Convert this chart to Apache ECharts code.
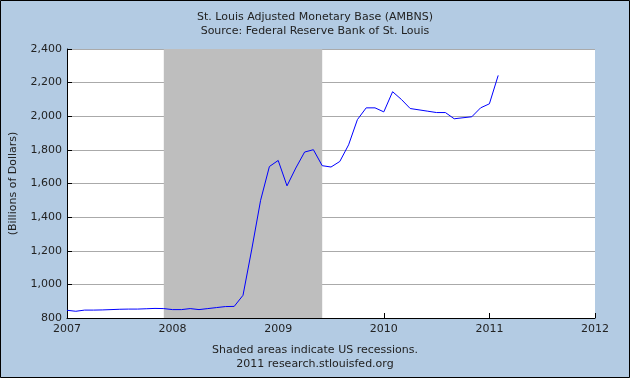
<!DOCTYPE html>
<html>
<head>
<meta charset="utf-8">
<script src="https://cdn.jsdelivr.net/npm/echarts@6/dist/echarts.min.js"></script>
<style>
  html, body { margin: 0; padding: 0; background: #b3cbe3; }
  #chart { width: 630px; height: 378px; }
</style>
</head>
<body>
<div id="chart"></div>
<script>
    // monthly observations, billions of dollars
    const months = [
        '2007-01', '2007-02', '2007-03', '2007-04', '2007-05', '2007-06',
        '2007-07', '2007-08', '2007-09', '2007-10', '2007-11', '2007-12',
        '2008-01', '2008-02', '2008-03', '2008-04', '2008-05', '2008-06',
        '2008-07', '2008-08', '2008-09', '2008-10', '2008-11', '2008-12',
        '2009-01', '2009-02', '2009-03', '2009-04', '2009-05', '2009-06',
        '2009-07', '2009-08', '2009-09', '2009-10', '2009-11', '2009-12',
        '2010-01', '2010-02', '2010-03', '2010-04', '2010-05', '2010-06',
        '2010-07', '2010-08', '2010-09', '2010-10', '2010-11', '2010-12',
        '2011-01', '2011-02'
    ];
    const ambns = [
        846, 840, 847, 847, 848, 850,
        852, 853, 853, 855, 857, 856,
        850, 850, 856, 850, 856, 862,
        868, 869, 935, 1210, 1500, 1701,
        1737, 1586, 1692, 1787, 1801, 1706,
        1698, 1731, 1830, 1980, 2050, 2050,
        2026, 2146, 2100, 2046, 2038, 2030,
        2022, 2022, 1985, 1991, 1997, 2050,
        2074, 2243
    ];

    // recession periods (start, end)
    const recessions = [['2007-12', '2009-06']];

    const yearTicks = [2007, 2008, 2009, 2010, 2011, 2012];

    // '2008-03' -> 2008.1667
    function toYear(m) {
        return Number(m.slice(0, 4)) + (Number(m.slice(5, 7)) - 1) / 12;
    }

    const font = 'DejaVu Sans';
    const txt = '#222';

    let chart = echarts.init(document.getElementById('chart'));

    chart.setOption({
        backgroundColor: '#b3cbe3',
        animation: false,
        title: [{
            text: 'St. Louis Adjusted Monetary Base (AMBNS)\nSource: Federal Reserve Bank of St. Louis',
            left: 'center',
            top: 5,
            textStyle: { fontFamily: font, fontSize: 11, fontWeight: 'normal', color: txt, lineHeight: 14 }
        }, {
            text: 'Shaded areas indicate US recessions.\n2011 research.stlouisfed.org',
            left: 'center',
            bottom: 2,
            textStyle: { fontFamily: font, fontSize: 11, fontWeight: 'normal', color: txt, lineHeight: 14 }
        }],
        graphic: [{
            type: 'rect',
            shape: { x: 0.5, y: 0.5, width: 629, height: 377 },
            style: { fill: 'none', stroke: '#000', lineWidth: 1 },
            silent: true
        }],
        grid: {
            left: 65,
            right: 35,
            top: 49,
            bottom: 60,
            show: true,
            backgroundColor: '#fff',
            borderWidth: 0
        },
        xAxis: {
            type: 'value',
            min: yearTicks[0],
            max: yearTicks[yearTicks.length - 1],
            interval: 1,
            axisLine: { lineStyle: { color: '#000', width: 1 } },
            axisTick: { inside: true, length: 5, lineStyle: { color: '#000' } },
            axisLabel: { fontFamily: font, fontSize: 11, color: txt, margin: 6, formatter: v => String(v) },
            splitLine: { show: false }
        },
        yAxis: {
            type: 'value',
            min: 800,
            max: 2400,
            interval: 200,
            name: '(Billions of Dollars)',
            nameLocation: 'middle',
            nameGap: 48,
            nameTextStyle: { fontFamily: font, fontSize: 11, color: txt },
            axisLine: { show: true, lineStyle: { color: '#000', width: 1 } },
            axisTick: { show: true, inside: true, length: 5, lineStyle: { color: '#000' } },
            axisLabel: { fontFamily: font, fontSize: 11, color: txt, margin: 5, formatter: v => v.toLocaleString('en-US') },
            splitLine: { show: true, lineStyle: { color: '#aaa', width: 1 } }
        },
        series: [{
            type: 'line',
            data: months.map((m, i) => [toYear(m), ambns[i]]),
            showSymbol: false,
            lineStyle: { color: '#0000ff', width: 1 },
            z: 5,
            markArea: {
                silent: true,
                itemStyle: { color: '#bebebe' },
                data: recessions.map(r => [{ xAxis: toYear(r[0]) }, { xAxis: toYear(r[1]) }])
            }
        }]
    });
</script>
</body>
</html>
